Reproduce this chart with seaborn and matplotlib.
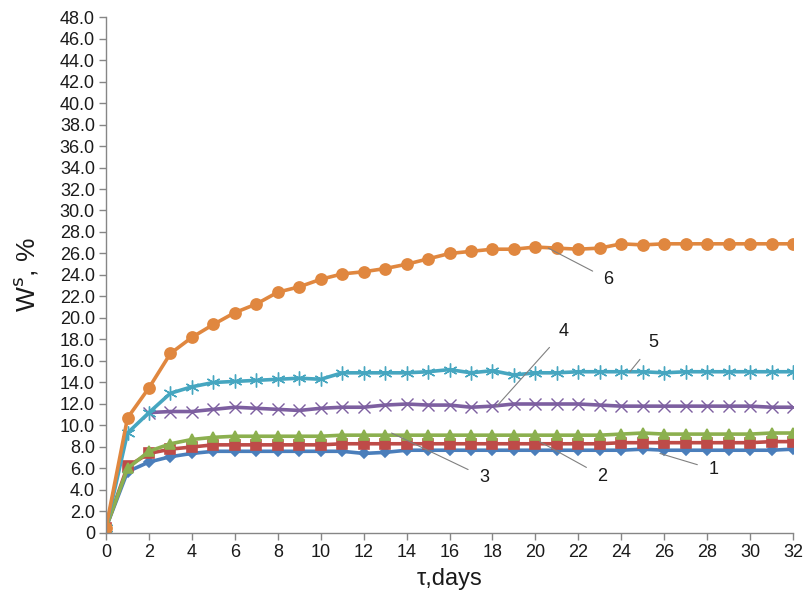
import numpy as np
import pandas as pd
import matplotlib
matplotlib.use("Agg")
import matplotlib.pyplot as plt
import seaborn as sns

# --- data ---
days = list(range(0, 33))

w1 = [0.5, 5.7, 6.6, 7.1, 7.4, 7.6, 7.6, 7.6, 7.6, 7.6, 7.6, 7.6, 7.4, 7.5, 7.7, 7.7, 7.7,
      7.7, 7.7, 7.7, 7.7, 7.7, 7.7, 7.7, 7.7, 7.8, 7.7, 7.7, 7.7, 7.7, 7.7, 7.7, 7.8]
w2 = [0.5, 6.2, 7.4, 7.8, 8.0, 8.2, 8.2, 8.2, 8.2, 8.2, 8.2, 8.3, 8.3, 8.3, 8.3, 8.3, 8.3,
      8.3, 8.3, 8.3, 8.3, 8.3, 8.3, 8.3, 8.4, 8.4, 8.4, 8.4, 8.4, 8.4, 8.4, 8.5, 8.5]
w3 = [0.5, 6.0, 7.6, 8.3, 8.7, 8.9, 9.0, 9.0, 9.0, 9.0, 9.0, 9.1, 9.1, 9.1, 9.1, 9.1, 9.1,
      9.1, 9.1, 9.1, 9.1, 9.1, 9.1, 9.1, 9.2, 9.3, 9.2, 9.2, 9.2, 9.2, 9.2, 9.3, 9.3]
w4 = [np.nan, np.nan, 11.2, 11.3, 11.3, 11.5, 11.7, 11.6, 11.5, 11.4, 11.6, 11.7, 11.7, 11.9,
      12.0, 11.9, 11.9, 11.7, 11.8, 12.0, 12.0, 12.0, 12.0, 11.9, 11.8, 11.8, 11.8, 11.8,
      11.8, 11.8, 11.8, 11.7, 11.7]
w5 = [0.5, 9.3, 11.2, 13.0, 13.6, 14.0, 14.1, 14.2, 14.3, 14.4, 14.3, 14.9, 14.9, 14.9, 14.9,
      15.0, 15.2, 14.9, 15.1, 14.7, 14.9, 14.9, 15.0, 15.0, 15.0, 15.0, 14.9, 15.0, 15.0,
      15.0, 15.0, 15.0, 15.0]
w6 = [0.5, 10.7, 13.5, 16.7, 18.2, 19.4, 20.5, 21.3, 22.4, 22.9, 23.6, 24.1, 24.3, 24.6,
      25.0, 25.5, 26.0, 26.2, 26.4, 26.4, 26.6, 26.5, 26.4, 26.5, 26.9, 26.8, 26.9, 26.9,
      26.9, 26.9, 26.9, 26.9, 26.9]

series_names = ["1", "2", "3", "4", "5", "6"]
series_values = [w1, w2, w3, w4, w5, w6]
colors = ["#4A7EBB", "#BE4B48", "#8CB04F", "#7D5FA0", "#46A6C0", "#E0873F"]
# asterisk for series 5: six spokes, one vertical
markers = ["D", "s", "^", "x", (6, 2, 0), "o"]
msizes = [5, 7, 7, 9, 10, 8]
medge = [1.2, 1.2, 1.2, 1.0, 1.0, 1.2]

# label positions (point on curve, text position)
labels = [
    ("1", (25.8, 7.4), (28.3, 5.9)),
    ("2", (20.2, 8.5), (23.1, 5.3)),
    ("3", (13.3, 9.3), (17.6, 5.2)),
    ("4", (18.2, 11.8), (21.3, 18.7)),
    ("5", (24.4, 15.0), (25.5, 17.7)),
    ("6", (20.6, 26.5), (23.4, 23.6)),
]

sns.set_theme(style="white")
plt.rcParams['font.family'] = ['Liberation Sans', 'DejaVu Sans']

fig = plt.figure(figsize=(8.07, 6.03), dpi=100)
ax = fig.add_axes([0.1314, 0.1161, 0.8513, 0.8557])

for name, vals, c, m, ms, mew in zip(series_names, series_values, colors, markers, msizes, medge):
    df = pd.DataFrame({"tau": days, "W": vals}).dropna()
    sns.lineplot(data=df, x="tau", y="W", ax=ax, color=c, linewidth=2.6,
                 marker=m, markersize=ms, markeredgecolor=c, markeredgewidth=mew,
                 label=name, legend=False)

for txt, xy, xytext in labels:
    ax.annotate(txt, xy=xy, xytext=xytext, fontsize=13, color="#1a1a1a",
                ha="center", va="center",
                arrowprops=dict(arrowstyle="-", color="#808080", lw=0.8,
                                shrinkA=6, shrinkB=0))

ax.set_xlim(0, 32)
ax.set_ylim(0, 48)
ax.set_xticks(range(0, 33, 2))
yt = list(range(0, 49, 2))
ax.set_yticks(yt)
ax.set_yticklabels(["0" if v == 0 else f"{v:.1f}" for v in yt])

for s in ["top", "right"]:
    ax.spines[s].set_visible(False)
for s in ["left", "bottom"]:
    ax.spines[s].set_color("#868686")
    ax.spines[s].set_linewidth(1.0)
ax.tick_params(axis="both", which="major", direction="out", length=5, width=1,
               color="#868686", labelsize=13, labelcolor="#1a1a1a", pad=3,
               left=True, bottom=True)

ax.set_xlabel("τ,days", fontsize=17, color="#1a1a1a", labelpad=5)
ax.set_ylabel("W$^{\\rm s}$, %", fontsize=19, color="#1a1a1a", labelpad=14)

fig.savefig("out.png", dpi=100)
